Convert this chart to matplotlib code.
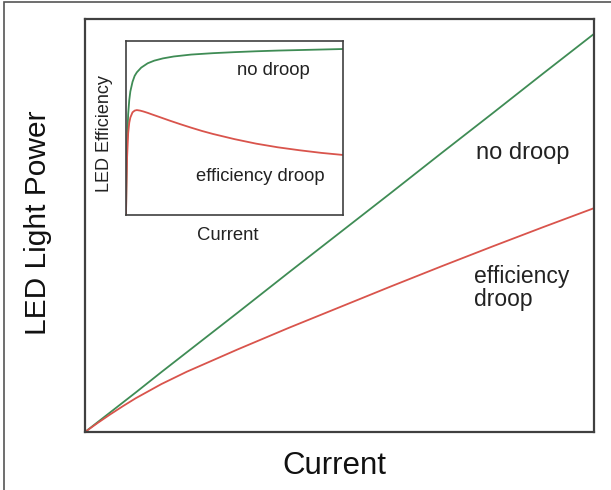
"""
LED light power vs current, with inset showing efficiency droop.
"""

import matplotlib.pyplot as plt
from matplotlib.patches import Rectangle

plt.rcParams['font.family'] = ['Liberation Sans', 'DejaVu Sans']

GREEN = '#3f8c55'
RED = '#d9544c'
SPINE = '#404040'

# main panel: light power (normalised) vs current
power_current = [0.0, 0.025, 0.05, 0.075, 0.1, 0.15, 0.2, 0.3, 0.4, 0.5, 0.6, 0.7, 0.8, 0.9, 1.0]
power_no_droop = [0.0, 0.024, 0.048, 0.072, 0.096, 0.145, 0.193, 0.289, 0.386, 0.482, 0.578,
                  0.675, 0.771, 0.868, 0.964]
power_droop = [0.0, 0.022, 0.043, 0.063, 0.082, 0.116, 0.146, 0.200, 0.252, 0.302, 0.352,
               0.401, 0.449, 0.496, 0.542]

# inset: efficiency vs current
eff_current_green = [0.0, 0.002, 0.005, 0.01, 0.015, 0.02, 0.03, 0.04, 0.05, 0.07, 0.1, 0.13,
                     0.17, 0.22, 0.3, 0.4, 0.5, 0.6, 0.7, 0.8, 0.9, 1.0]
eff_no_droop = [0.0, 0.20, 0.42, 0.58, 0.66, 0.71, 0.765, 0.80, 0.82, 0.847, 0.872, 0.887,
                0.90, 0.911, 0.922, 0.93, 0.936, 0.941, 0.945, 0.948, 0.951, 0.954]
eff_current_red = [0.0, 0.002, 0.005, 0.01, 0.015, 0.02, 0.03, 0.04, 0.05, 0.065, 0.08, 0.1,
                   0.12, 0.15, 0.2, 0.25, 0.3, 0.35, 0.4, 0.5, 0.6, 0.7, 0.8, 0.9, 1.0]
eff_droop = [0.0, 0.15, 0.33, 0.47, 0.53, 0.56, 0.59, 0.60, 0.603, 0.600, 0.595, 0.587,
             0.578, 0.565, 0.543, 0.522, 0.502, 0.483, 0.466, 0.436, 0.41, 0.389, 0.372,
             0.357, 0.345]


def style_box(ax, lw):
    ax.set_xticks([])
    ax.set_yticks([])
    for s in ax.spines.values():
        s.set_color(SPINE)
        s.set_linewidth(lw)


fig = plt.figure(figsize=(6.11, 4.90), dpi=100)

# outer frame of the picture
fig.patches.append(Rectangle((4 / 611, -0.01), 1.02, 1.0 - 1.5 / 490 + 0.01,
                             transform=fig.transFigure, fill=False,
                             edgecolor='#555555', linewidth=1.2))

ax = fig.add_axes([85 / 611, 58 / 490, 509 / 611, 413 / 490])
ax.plot(power_current, power_no_droop, color=GREEN, lw=1.3)
ax.plot(power_current, power_droop, color=RED, lw=1.3)
ax.set_xlim(0, 1)
ax.set_ylim(0, 1)
style_box(ax, 1.6)

ax.text(0.86, 0.676, 'no droop', ha='center', va='center', fontsize=17, color='#222222')
ax.text(0.764, 0.349, 'efficiency\ndroop', ha='left', va='center', fontsize=16.5,
        linespacing=1.0, color='#222222')
ax.text(0.489, -0.1017, 'Current', ha='center', va='baseline', fontsize=22.5,
        transform=ax.transAxes, color='#111111')
ax.text(-0.092, 0.506, 'LED Light Power', ha='center', va='center', rotation=90,
        fontsize=21.5, transform=ax.transAxes, color='#111111')

# inset
ax_in = fig.add_axes([126 / 611, 275 / 490, 217 / 611, 174 / 490])
ax_in.plot(eff_current_green, eff_no_droop, color=GREEN, lw=1.3)
ax_in.plot(eff_current_red, eff_droop, color=RED, lw=1.3)
ax_in.set_xlim(0, 1)
ax_in.set_ylim(0, 1)
style_box(ax_in, 1.2)

ax_in.text(0.68, 0.83, 'no droop', ha='center', va='center', fontsize=13.3, color='#222222')
ax_in.text(0.62, 0.224, 'efficiency droop', ha='center', va='center', fontsize=13.2,
           color='#222222')
ax_in.text(0.47, -0.12, 'Current', ha='center', va='center', fontsize=13.3,
           transform=ax_in.transAxes, color='#222222')
ax_in.text(-0.097, 0.47, 'LED Efficiency', ha='center', va='center', rotation=90,
           fontsize=13, transform=ax_in.transAxes, color='#222222')

fig.savefig('out.png', dpi=100)
